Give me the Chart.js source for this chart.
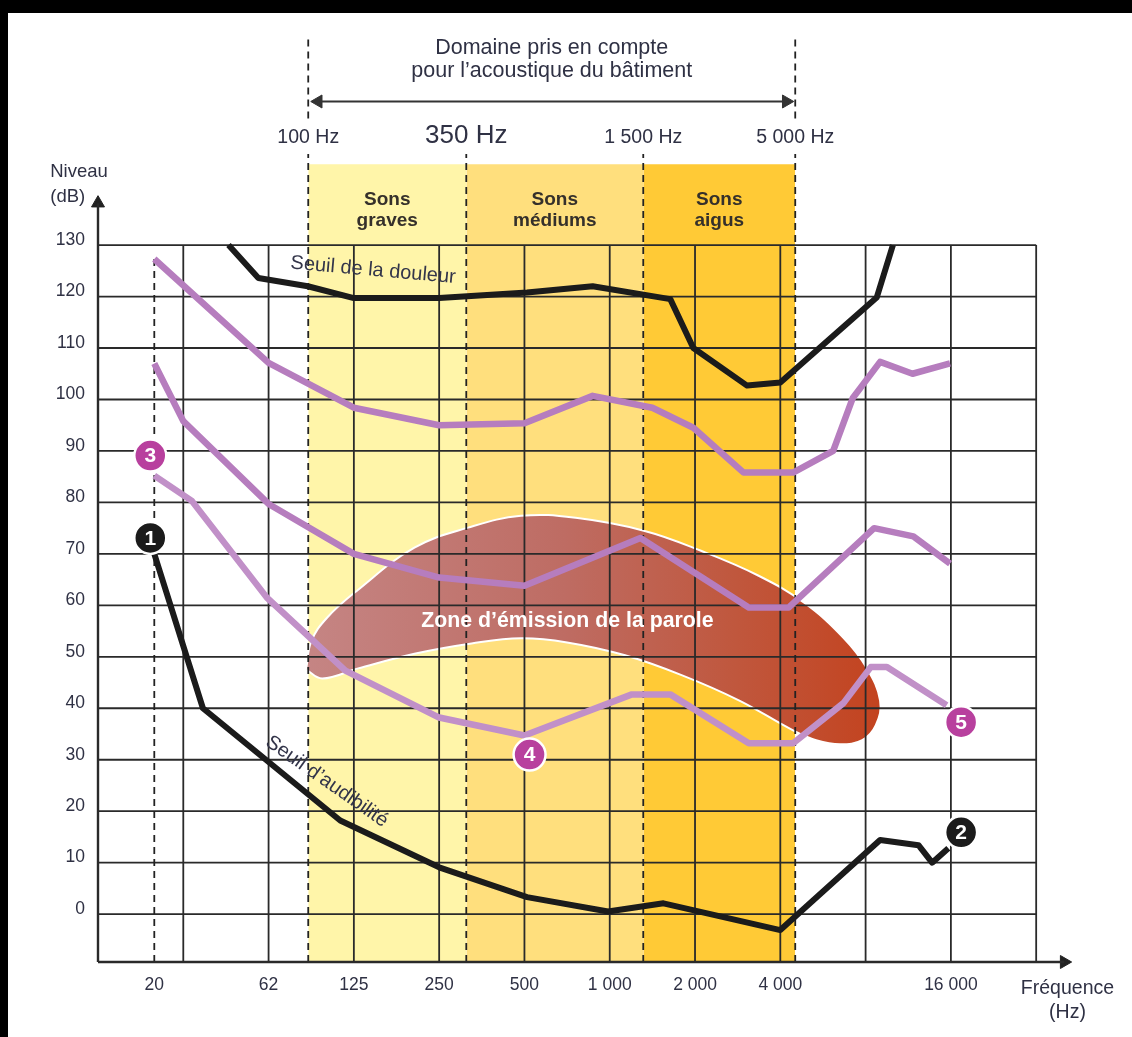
<!DOCTYPE html>
<html><head><meta charset="utf-8">
<script src="https://cdn.jsdelivr.net/npm/chart.js@4.4.1/dist/chart.umd.min.js"></script>
<style>
html,body{margin:0;padding:0;background:#000;width:1132px;height:1037px;overflow:hidden}
#wrap{position:absolute;left:8px;top:13px;width:1124px;height:1024px;background:#fff}
</style></head><body><div id="wrap"><canvas id="c"></canvas></div>
<script>
// ---------- DATA (x = octave steps from the 16 Hz grid line, y = level in dB) ----------
const xGridLines = [0,1,2,3,4,5,6,7,8,9,10,11];
const yTicks = [0,10,20,30,40,50,60,70,80,90,100,110,120,130];
const xTickPos = [0.66,2,3,4,5,6,7,8,10];
const xTickLabels = ['20','62','125','250','500','1 000','2 000','4 000','16 000'];
const line20Hz = 0.66;
const bandEdges = [2.465, 4.318, 6.393, 8.175];          // 100 Hz, 350 Hz, 1 500 Hz, 5 000 Hz
const edgeLabels = ['100 Hz','350 Hz','1 500 Hz','5 000 Hz'];
const bandNames = [['Sons','graves'],['Sons','médiums'],['Sons','aigus']];

const audibiliteX = [0.66,1.23,2.84,4.0,5.03,5.98,6.63,8.0,9.17,9.62,9.78,9.97];
const audibiliteY = [70,40,18.2,9.1,3.3,0.5,2.1,-3.1,14.4,13.4,10,12.8];
const douleurX = [1.53,1.88,2.46,3.0,4.0,5.03,5.8,6.71,6.98,7.61,8.0,9.13,9.32];
const douleurY = [130,123.6,122,119.7,119.7,120.8,122,119.5,110,102.7,103.3,119.8,130];
const courbeHauteX = [0.66,2.0,3.0,4.0,5.0,5.8,6.5,6.98,7.57,8.15,8.62,8.85,9.17,9.55,9.99];
const courbeHauteY = [127.3,107.1,98.4,95,95.4,100.7,98.4,94.5,85.8,85.8,90,100.3,107.3,105,107];
const courbeMoyX = [0.66,1.0,2.0,3.0,4.0,5.0,6.36,7.63,8.1,9.1,9.56,9.99];
const courbeMoyY = [107,95.8,79.7,70,65.4,63.8,73.1,59.6,59.6,75,73.4,68.1];
const courbeBasseX = [0.66,1.1,1.98,2.9,4.0,5.0,6.26,6.71,7.63,8.15,8.74,9.06,9.25,9.95];
const courbeBasseY = [85.2,80.3,61.5,47.3,38.2,34.7,42.7,42.7,33.2,33.2,41,48,48,40.6];
const paroleX = [2.44,2.50,2.68,3.04,3.71,4.34,4.96,5.60,6.40,7.07,7.74,8.28,8.74,9.01,9.17,9.12,8.96,8.70,8.42,8.15,7.52,6.85,6.18,5.50,4.96,4.38,3.71,3.04,2.63,2.44];
const paroleY = [47.5,53.0,57.5,62.9,71.2,75.1,77.4,77.0,74.5,70.6,65.8,60.5,53.7,47.9,41.5,36.7,33.8,33.0,33.8,35.7,41.5,46.4,50.3,52.8,53.6,52.6,50.6,47.7,45.8,47.5];
const markerNums = ['1','2','3','4','5'];
const markerX = [0.613,10.12,0.613,5.06,10.12];
const markerY = [73.1,15.9,89.1,31.0,37.3];

// ---------- layout constants ----------
const Y_MIN = -9.3, Y_MAX = 171.5, X_MIN = 0, X_MAX = 11.42;
const BAND_TOP = 145.7, DASH_TOP = 147.7, DASH_UP_LOW = 154.6, DASH_UP_TOP = 170.9;
const DOMAIN_Y = 157.9, Y_ARROW_TIP = 139.5, X_ARROW_TIP = 11.41;
const PX_X = 85.28, PX_Y = 5.154;
const FONT = '"Liberation Sans", Arial, Helvetica, sans-serif';
const TXT = '#2f3144';

const pts = (xs, ys) => xs.map((x, i) => ({x, y: ys[i]}));
const gridTop = yTicks[yTicks.length - 1];
const gx0 = xGridLines[0], gx1 = xGridLines[xGridLines.length - 1];

const hGrid = yTicks.flatMap(v => [{x: gx0, y: v}, {x: gx1, y: v}, {x: gx1, y: null}]);
const vGrid = xGridLines.slice(1).flatMap(v => [{x: v, y: Y_MIN}, {x: v, y: gridTop}, {x: v, y: null}]);

const bandColors = ['#FFF5A9', '#FFDF7D', '#FFCA36'];
const datasets = [];

// bands
for (let i = 0; i < 3; i++) {
  datasets.push({data: [{x: bandEdges[i], y: BAND_TOP}, {x: bandEdges[i + 1], y: BAND_TOP}],
    fill: 'start', backgroundColor: bandColors[i], borderWidth: 0, pointRadius: 0, order: 20});
}
// speech zone
datasets.push({data: pts(paroleX, paroleY), fill: 'shape', tension: 0.4,
  borderColor: '#ffffff', borderWidth: 2, pointRadius: 0, order: 19,
  backgroundColor: (c) => {
    const ch = c.chart; if (!ch.chartArea) return '#C06A5E';
    const sx = ch.scales.x;
    const g = ch.ctx.createLinearGradient(sx.getPixelForValue(paroleX[0]), 0, sx.getPixelForValue(Math.max(...paroleX)), 0);
    g.addColorStop(0, '#C58584'); g.addColorStop(0.45, '#BE6C63'); g.addColorStop(0.75, '#C0573D'); g.addColorStop(1, '#C3431F');
    return g;
  }});
// grid
datasets.push({data: hGrid, borderColor: '#2a2a2a', borderWidth: 1.8, pointRadius: 0, fill: false, order: 15});
datasets.push({data: vGrid, borderColor: '#2a2a2a', borderWidth: 1.8, pointRadius: 0, fill: false, order: 15});
// dashed lines
const dashData = [{x: line20Hz, y: Y_MIN}, {x: line20Hz, y: courbeHauteY[0]}, {x: line20Hz, y: null}];
bandEdges.forEach((e, i) => {
  dashData.push({x: e, y: Y_MIN}, {x: e, y: DASH_TOP}, {x: e, y: null});
  if (i === 0 || i === 3) dashData.push({x: e, y: DASH_UP_LOW}, {x: e, y: DASH_UP_TOP}, {x: e, y: null});
});
datasets.push({data: dashData, borderColor: '#222', borderWidth: 1.8, borderDash: [7, 5], pointRadius: 0, fill: false, order: 14});
// domain arrow
const dL = bandEdges[0] + 3 / PX_X, dR = bandEdges[3] - 2 / PX_X;
datasets.push({data: [{x: dL + 8 / PX_X, y: DOMAIN_Y}, {x: dR - 8 / PX_X, y: DOMAIN_Y}], borderColor: '#333', borderWidth: 2, pointRadius: 0, fill: false, order: 13});
datasets.push({data: [{x: dL + 7 / PX_X, y: DOMAIN_Y}, {x: dR - 7 / PX_X, y: DOMAIN_Y}], showLine: false,
  pointStyle: 'triangle', pointRadius: 7.5, pointRotation: [-90, 90], backgroundColor: '#333', borderColor: '#333', borderWidth: 1, order: 13});
// axes
datasets.push({data: [{x: 0, y: Y_MIN}, {x: 0, y: Y_ARROW_TIP - 7 / PX_Y}, {x: 0, y: null}, {x: 0, y: Y_MIN}, {x: X_ARROW_TIP - 7 / PX_X, y: Y_MIN}],
  borderColor: '#2a2a2a', borderWidth: 2.4, pointRadius: 0, fill: false, clip: false, order: 12});
datasets.push({data: [{x: 0, y: Y_ARROW_TIP - 7 / PX_Y}, {x: X_ARROW_TIP - 7 / PX_X, y: Y_MIN}], showLine: false, clip: false,
  pointStyle: 'triangle', pointRadius: 7.5, pointRotation: [0, 90], backgroundColor: '#222', borderColor: '#222', borderWidth: 1, order: 12});
// purple curves
datasets.push({data: pts(courbeHauteX, courbeHauteY), borderColor: '#B67DBE', borderWidth: 6.5, pointRadius: 0, fill: false, borderJoinStyle: 'round', order: 6});
datasets.push({data: pts(courbeMoyX, courbeMoyY), borderColor: '#B67DBE', borderWidth: 6.5, pointRadius: 0, fill: false, borderJoinStyle: 'round', order: 6});
datasets.push({data: pts(courbeBasseX, courbeBasseY), borderColor: '#C190C8', borderWidth: 6.5, pointRadius: 0, fill: false, borderJoinStyle: 'round', order: 6});
// black curves
datasets.push({data: pts(douleurX, douleurY), borderColor: '#1b1b1b', borderWidth: 6, pointRadius: 0, fill: false, borderJoinStyle: 'round', order: 5});
datasets.push({data: pts(audibiliteX, audibiliteY), borderColor: '#1b1b1b', borderWidth: 6, pointRadius: 0, fill: false, borderJoinStyle: 'round', order: 5});
// markers
const markerColors = ['#1b1b1b', '#1b1b1b', '#B8409E', '#B8409E', '#B8409E'];
datasets.push({data: pts(markerX, markerY), showLine: false, pointRadius: 16, pointBackgroundColor: markerColors,
  pointBorderColor: '#ffffff', pointBorderWidth: 2.5, order: 1});

const textPlugin = {
  id: 'texts',
  afterDatasetsDraw(chart) {
    const {ctx, scales: {x, y}} = chart;
    const X = v => x.getPixelForValue(v), Y = v => y.getPixelForValue(v);
    const F = (w, s) => `${w} ${s}px ${FONT}`;
    ctx.save();
    ctx.textAlign = 'center'; ctx.textBaseline = 'middle';
    ctx.fillStyle = TXT;
    ctx.font = F('normal', 21.5);
    const mid = (bandEdges[0] + bandEdges[3]) / 2;
    ctx.fillText('Domaine pris en compte', X(mid), Y(168.2));
    ctx.fillText('pour l’acoustique du bâtiment', X(mid), Y(163.75));
    edgeLabels.forEach((t, i) => {
      ctx.font = F('normal', i === 1 ? 26 : 19.5);
      ctx.fillText(t, X(bandEdges[i]), Y(i === 1 ? 151.2 : 150.8));
    });
    ctx.fillStyle = '#35302b';
    ctx.font = F('bold', 19);
    bandNames.forEach((n, i) => {
      const cx = X((bandEdges[i] + bandEdges[i + 1]) / 2);
      ctx.fillText(n[0], cx, Y(138.9));
      ctx.fillText(n[1], cx, Y(134.7));
    });
    ctx.fillStyle = TXT;
    ctx.font = F('normal', 18.5);
    ctx.textAlign = 'left';
    ctx.fillText('Niveau', X(-0.56), Y(144.2));
    ctx.fillText('(dB)', X(-0.56), Y(139.3));
    ctx.textAlign = 'center';
    ctx.font = F('normal', 19.5);
    ctx.fillText('Fréquence', X(11.367), Y(-14.4));
    ctx.fillText('(Hz)', X(11.367), Y(-19.2));
    // zone label
    ctx.fillStyle = '#ffffff';
    ctx.font = F('bold', 21.3);
    ctx.fillText('Zone d’émission de la parole', X(5.504), Y(57.0));
    // curve labels
    ctx.fillStyle = '#33354a';
    ctx.font = F('normal', 20);
    ctx.textAlign = 'left';
    ctx.save(); ctx.translate(X(2.258), Y(126.5)); ctx.rotate(5 * Math.PI / 180);
    ctx.fillText('Seuil de la douleur', 0, 0); ctx.restore();
    ctx.save(); ctx.translate(X(1.99), Y(33.8)); ctx.rotate(35 * Math.PI / 180);
    ctx.fillText('Seuil d’audibilité', 0, 0); ctx.restore();
    // marker numbers
    ctx.textAlign = 'center';
    ctx.fillStyle = '#ffffff';
    ctx.font = F('bold', 21);
    markerNums.forEach((n, i) => ctx.fillText(n, X(markerX[i]), Y(markerY[i]) + 1));
    ctx.restore();
  }
};

new Chart(document.getElementById('c'), {
  type: 'line',
  data: {datasets},
  options: {
    responsive: true, maintainAspectRatio: false, animation: false, events: [],
    layout: {padding: {left: 0, right: 60, top: 17, bottom: 0}},
    plugins: {legend: {display: false}, tooltip: {enabled: false}},
    elements: {line: {borderCapStyle: 'butt'}},
    scales: {
      x: {type: 'linear', min: X_MIN, max: X_MAX,
        grid: {display: false, drawTicks: false, drawOnChartArea: false}, border: {display: false},
        afterBuildTicks: s => { s.ticks = xTickPos.map(v => ({value: v})); },
        afterFit: s => { s.height = 75; s.paddingLeft = 0; s.paddingRight = 0; },
        ticks: {autoSkip: false, maxRotation: 0, padding: 13, color: '#2f3144',
          font: {family: FONT, size: 17.5}, callback: (v, i) => xTickLabels[i]}},
      y: {type: 'linear', min: Y_MIN, max: Y_MAX,
        grid: {display: false, drawTicks: false, drawOnChartArea: false}, border: {display: false},
        afterBuildTicks: s => { s.ticks = yTicks.map(v => ({value: v})); },
        afterFit: s => { s.width = 90; s.paddingTop = 0; s.paddingBottom = 0; },
        ticks: {autoSkip: false, padding: 13, labelOffset: -5, color: '#2f3144',
          font: {family: FONT, size: 17.5}, callback: v => String(v)}}
    }
  },
  plugins: [textPlugin]
});
</script></body></html>
